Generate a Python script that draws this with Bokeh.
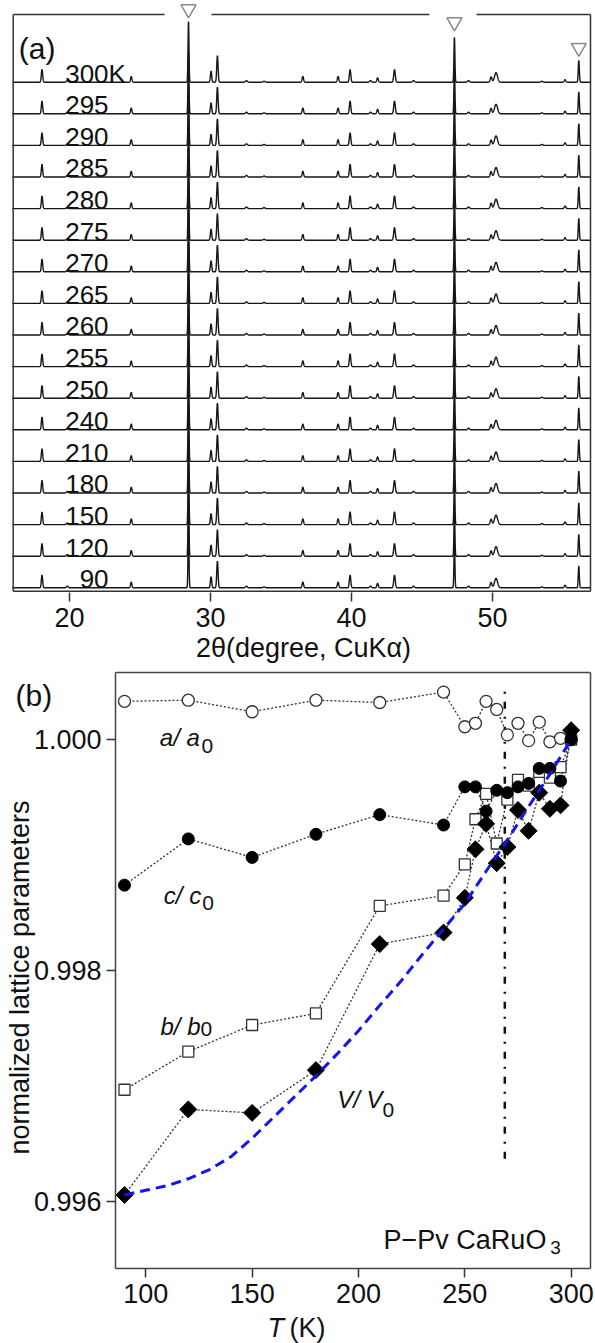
import numpy as np
from bokeh.plotting import figure
from bokeh.models import Range1d, FixedTicker, PrintfTickFormatter
from bokeh.layouts import column
from bokeh.embed import file_html
from bokeh.resources import INLINE
from bokeh.core.properties import value

FONT = "Liberation Sans"

# ---------------- panel (a) data ----------------
temp_labels = ["90", "120", "150", "180", "210", "240", "250", "255", "260",
               "265", "270", "275", "280", "285", "290", "295", "300"]
peak_pos = [18.05, 19.85, 24.38, 28.44, 30.04, 30.49, 32.55, 33.80, 36.55,
            39.05, 39.90, 41.35, 41.85, 43.05, 44.40, 47.30, 48.30, 49.90,
            50.25, 53.50, 55.15, 56.12]
peak_height = [0.40, 0.05, 0.18, 1.92, 0.35, 0.84, 0.05, 0.03, 0.18,
               0.18, 0.40, 0.05, 0.14, 0.40, 0.05, 1.42, 0.05, 0.17,
               0.30, 0.03, 0.08, 0.69]
peak_fwhm = [0.11, 0.15, 0.11, 0.08, 0.11, 0.11, 0.15, 0.15, 0.12,
             0.12, 0.12, 0.15, 0.12, 0.13, 0.15, 0.08, 0.15, 0.14,
             0.25, 0.15, 0.13, 0.09]
si_pos = [28.44, 47.30, 56.12]
ticks_a = [20, 30, 40, 50]

# ---------------- panel (b) data ----------------
T = [90, 120, 150, 180, 210, 240, 250, 255, 260, 265, 270, 275, 280, 285, 290, 295, 300]
a_norm = [1.00033, 1.00034, 1.00024, 1.00034, 1.00032, 1.00041, 1.00011, 1.00014,
          1.00033, 1.00026, 1.00004, 1.00014, 0.99999, 1.00015, 0.99998, 1.00001, 1.00000]
c_norm = [0.99874, 0.99914, 0.99898, 0.99918, 0.99935, 0.99926, 0.99959, 0.99959,
          0.99938, 0.99956, 0.99954, 0.99959, 0.99962, 0.99975, 0.99975, 0.99964, 1.00000]
b_norm = [0.99697, 0.99730, 0.99753, 0.99763, 0.99856, 0.99865, 0.99892, 0.99931,
          0.99953, 0.99910, 0.99948, 0.99965, 0.99960, 0.99972, 0.99967, 0.99976, 1.00000]
V_norm = [0.99606, 0.99680, 0.99677, 0.99714, 0.99823, 0.99833, 0.99863, 0.99905,
          0.99927, 0.99893, 0.99907, 0.99939, 0.99921, 0.99954, 0.99940, 0.99943, 1.00008]
fit_T = [90, 100, 110, 120, 130, 140, 150, 160, 170, 180, 190, 200, 210, 220, 230,
         240, 250, 260, 270, 280, 290, 300]
fit_V = [0.99606, 0.99610, 0.99614, 0.99620, 0.99628, 0.99639, 0.99655, 0.99673,
         0.99691, 0.99709, 0.99728, 0.99748, 0.99770, 0.99791, 0.99814, 0.99836,
         0.99858, 0.99886, 0.99913, 0.99942, 0.99970, 1.00000]
T_transition = 268.8
ticks_T = [100, 150, 200, 250, 300]
ticks_norm = [0.996, 0.998, 1.000]

INK = "#111111"

# ================= panel (a) =================
p1 = figure(width=595, height=668, x_range=Range1d(15.887, 57.305),
            y_range=Range1d(-0.1487, 18.585), output_backend="svg",
            toolbar_location=None, y_axis_location=None, frame_align=False,
            min_border_left=11, min_border_right=0, min_border_top=0, min_border_bottom=76)
p1.outline_line_color = None
p1.grid.visible = False
ax = p1.xaxis[0]
ax.ticker = FixedTicker(ticks=ticks_a)
ax.axis_line_color = None
ax.major_tick_in = 0
ax.major_tick_out = 9
ax.major_tick_line_color = "#333333"
ax.major_tick_line_width = 1.5
ax.minor_tick_line_color = None
ax.major_label_text_font = FONT
ax.major_label_text_font_size = "27px"
ax.major_label_text_color = INK
ax.major_label_standoff = 6
ax.axis_label = "2θ(degree, CuKα)"
ax.axis_label_text_font = FONT
ax.axis_label_text_font_size = "27px"
ax.axis_label_text_font_style = "normal"
ax.axis_label_text_color = INK
ax.axis_label_standoff = 3

tt = np.arange(15.95, 57.0, 0.01)
prof = np.zeros_like(tt)
for x0, h, w in zip(peak_pos, peak_height, peak_fwhm):
    prof += h * np.exp(-4 * np.log(2) * (tt - x0) ** 2 / w ** 2)
xs = [tt for _ in temp_labels]
ys = [prof + i for i in range(len(temp_labels))]
p1.multi_line(xs, ys, line_color="#161616", line_width=1.4)

# frame with gaps for the Si markers
fx0, fx1, fy0, fy1 = 16.007, 56.95, -0.1076, 18.14
p1.segment(x0=[fx0, fx1, fx0, fx0, 30.07, 48.87], y0=[fy0, fy0, fy0, fy1, fy1, fy1],
           x1=[fx0, fx1, fx1, 26.74, 45.53, fx1], y1=[fy1, fy1, fy0, fy1, fy1, fy1],
           line_color="#333333", line_width=1.5)
p1.scatter(x=si_pos, y=[18.31, 17.90, 17.09], marker="inverted_triangle", size=15,
           fill_color="white", line_color="#8a8a8a", line_width=1.5)

lab_y = [i + 0.27 for i in range(len(temp_labels))]
p1.text(x=[22.77] * len(temp_labels), y=lab_y, text=temp_labels, text_align="right",
        text_baseline="alphabetic", text_font=value(FONT), text_font_size="26px",
        text_color=INK)
p1.text(x=[22.77], y=[lab_y[-1]], text=["K"], text_align="left", text_baseline="alphabetic",
        text_font=value(FONT), text_font_size="26px", text_color=INK)
p1.text(x=[16.40], y=[17.06], text=["(a)"], text_baseline="alphabetic",
        text_font=value(FONT), text_font_size="30px", text_color=INK)

# ================= panel (b) =================
p2 = figure(width=595, height=675, x_range=Range1d(31.70, 311.44),
            y_range=Range1d(0.994775, 1.000614), output_backend="svg",
            toolbar_location=None, frame_align=False,
            min_border_left=0, min_border_right=0, min_border_top=0, min_border_bottom=0)
p2.outline_line_color = None
p2.grid.visible = False
xa, ya = p2.xaxis[0], p2.yaxis[0]
xa.fixed_location = 0.995424
ya.fixed_location = 85.769
for a in (xa, ya):
    a.axis_line_color = None
    a.major_tick_in = 0
    a.major_tick_out = 9
    a.major_tick_line_color = "#333333"
    a.major_tick_line_width = 1.5
    a.minor_tick_line_color = None
    a.major_label_text_font = FONT
    a.major_label_text_font_size = "27px"
    a.major_label_text_color = INK
xa.ticker = FixedTicker(ticks=ticks_T)
xa.major_label_standoff = 7
ya.ticker = FixedTicker(ticks=ticks_norm)
ya.formatter = PrintfTickFormatter(format="%.3f")
ya.major_label_standoff = 5

# plot box
bx0, bx1, by0, by1 = 85.769, 309.09, 0.995424, 1.00058
p2.segment(x0=[bx0, bx1, bx0, bx0], y0=[by0, by0, by0, by1],
           x1=[bx0, bx1, bx1, bx1], y1=[by1, by1, by0, by1],
           line_color="#444444", line_width=1.5)

dot = dict(line_dash="2 2", line_color="#333333", line_width=1.3)
for s in (a_norm, c_norm, b_norm, V_norm):
    p2.line(T, s, **dot)
p2.segment(x0=[T_transition], y0=[0.996373], x1=[T_transition], y1=[1.000482],
           line_color=INK, line_width=2.5, line_dash="7 8 2 8")
p2.scatter(T, a_norm, marker="circle", size=12, fill_color="white",
           line_color="#333333", line_width=1.3)
p2.scatter(T, b_norm, marker="square", size=11, fill_color="white",
           line_color="#333333", line_width=1.3)
p2.scatter(T, c_norm, marker="circle", size=12, fill_color="black", line_color="black")
p2.scatter(T, V_norm, marker="square", size=12, angle=np.pi / 4,
           fill_color="black", line_color="black")
p2.line(fit_T, fit_V, line_color="#1414ee", line_width=3, line_dash="10 6")


def lab(x, y, t, size="24px", style="italic", align="left", angle=0.0, base="alphabetic"):
    p2.text(x=[x], y=[y], text=[t], text_font=value(FONT), text_font_size=size,
            text_font_style=style, text_color=INK, text_align=align,
            text_baseline=base, angle=angle)


lab(106.6, 1.00002, "a/ a")
lab(126.2, 0.99994, "0", "21px", "normal")
lab(108.5, 0.998651, "c/ c")
lab(126.5, 0.998584, "0", "21px", "normal")
lab(106.9, 0.99752, "b/ b")
lab(125.7, 0.997497, "0", "21px", "normal")
lab(190.0, 0.996886, "V/ V")
lab(211.3, 0.996791, "0", "21px", "normal")
lab(211.8, 0.995672, "P−Pv CaRuO", "27px", "normal")
lab(290.2, 0.995608, "3", "19px", "normal")
lab(38.75, 1.000381, "(b)", "30px", "normal")
lab(157.2, 0.994905, "T", "27px", "italic")
lab(167.6, 0.994905, "(K)", "27px", "normal")
lab(41.1, 0.997941, "normalized lattice parameters", "27px", "normal",
    "center", np.pi / 2, "middle")

layout = column(p1, p2)
open("out.html", "w").write(file_html(layout, INLINE))
